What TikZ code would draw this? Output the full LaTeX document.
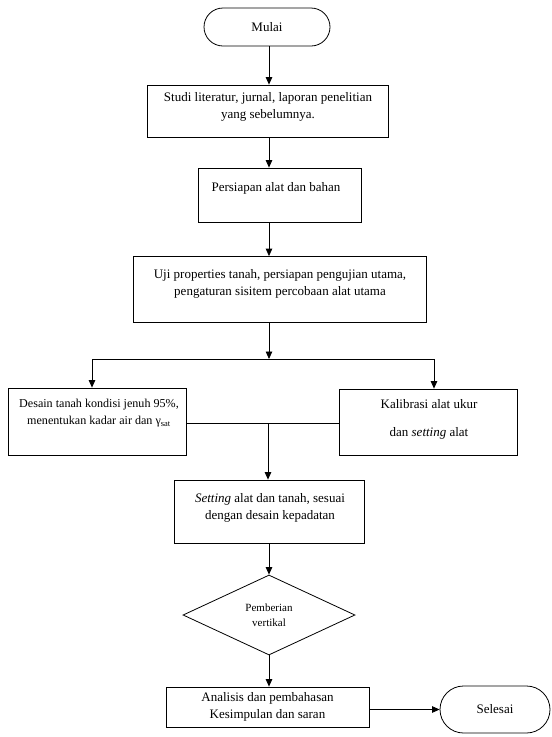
\documentclass[tikz,border=0pt]{standalone}
\usepackage{fontspec}
\setmainfont{Liberation Serif}
\usetikzlibrary{shapes.geometric,shapes.misc,arrows.meta}
\begin{document}
\begin{tikzpicture}[x=1pt,y=-1pt,
  box/.style={draw, line width=0.8pt, inner sep=0pt},
  term/.style={draw, line width=0.8pt, rounded rectangle, inner sep=0pt, font=\fontsize{13}{17}\selectfont},
  dia/.style={draw, line width=0.8pt, diamond, inner sep=0pt},
  txt/.style={align=center, inner sep=0pt, font=\fontsize{13}{17}\selectfont},
  stxt/.style={align=center, inner sep=0pt, font=\fontsize{11}{15}\selectfont},
  arr/.style={-{Triangle[length=7.5pt,width=6.5pt]}, line width=0.8pt},
  ln/.style={line width=0.8pt}]
\useasboundingbox (0,0) rectangle (552,737);
\coordinate (spine) at (269,0);

% nodes
\node[term, minimum width=126pt, minimum height=38pt] (mulai) at (267,27) {Mulai};
\node[box, minimum width=241pt, minimum height=52pt] (studi) at (267.5,111) {};
\node[txt] (studiT) at (268,107) {Studi literatur, jurnal, laporan penelitian\\yang sebelumnya.};
\node[box, minimum width=163pt, minimum height=54pt] (persiapan) at (279.5,195) {};
\node[txt] (persiapanT) at (276,188) {Persiapan alat dan bahan};
\node[box, minimum width=293pt, minimum height=66pt] (uji) at (279.5,289.5) {};
\node[txt] (ujiT) at (280,284) {Uji properties tanah, persiapan pengujian utama,\\pengaturan sisitem percobaan alat utama};
\node[box, minimum width=178pt, minimum height=67pt] (desain) at (97,421.5) {};
\node[txt, font=\fontsize{12.1}{17}\selectfont] (desainT) at (99,413) {Desain tanah kondisi jenuh 95\%,\\menentukan kadar air dan γ\textsubscript{sat}};
\node[box, minimum width=178pt, minimum height=66pt] (kalibrasi) at (428,422) {};
\node[txt] (kalibrasiT) at (429,419) {Kalibrasi alat ukur\\[11pt]dan \textit{setting} alat};
\node[box, minimum width=190pt, minimum height=63pt] (setting) at (269,511.5) {};
\node[txt] (settingT) at (270,508) {\textit{Setting} alat dan tanah, sesuai\\dengan desain kepadatan};
\node[dia, minimum width=172pt, minimum height=80pt] (pemberian) at (269,615) {};
\node[stxt] (pemberianT) at (269,615) {Pemberian\\vertikal};
\node[box, minimum width=203pt, minimum height=40pt, txt] (analisis) at (267.5,707) {Analisis dan pembahasan\\Kesimpulan dan saran};
\node[term, minimum width=110pt, minimum height=47pt] (selesai) at (495,709.5) {Selesai};

% branch coordinates
\coordinate (split) at (269,359);
\coordinate (splitL) at (92,359);
\coordinate (splitR) at (434,359);
\coordinate (join) at (268,423);

% connectors
\draw[arr] (mulai.south -| spine) -- (studi.north -| spine);
\draw[arr] (studi.south -| spine) -- (persiapan.north -| spine);
\draw[arr] (persiapan.south -| spine) -- (uji.north -| spine);
\draw[arr] (uji.south -| spine) -- (split);
\draw[ln] (splitL) -- (splitR);
\draw[arr] (splitL) -- (desain.north -| splitL);
\draw[arr] (splitR) -- (kalibrasi.north -| splitR);
\draw[ln] (desain.east |- join) -- (kalibrasi.west |- join);
\draw[arr] (join) -- (setting.north -| join);
\draw[arr] (setting.south -| spine) -- (pemberian.north);
\draw[arr] (pemberian.south) -- (analisis.north -| pemberian.south);
\draw[arr] (analisis.east |- selesai.west) -- (selesai.west);
\end{tikzpicture}
\end{document}
